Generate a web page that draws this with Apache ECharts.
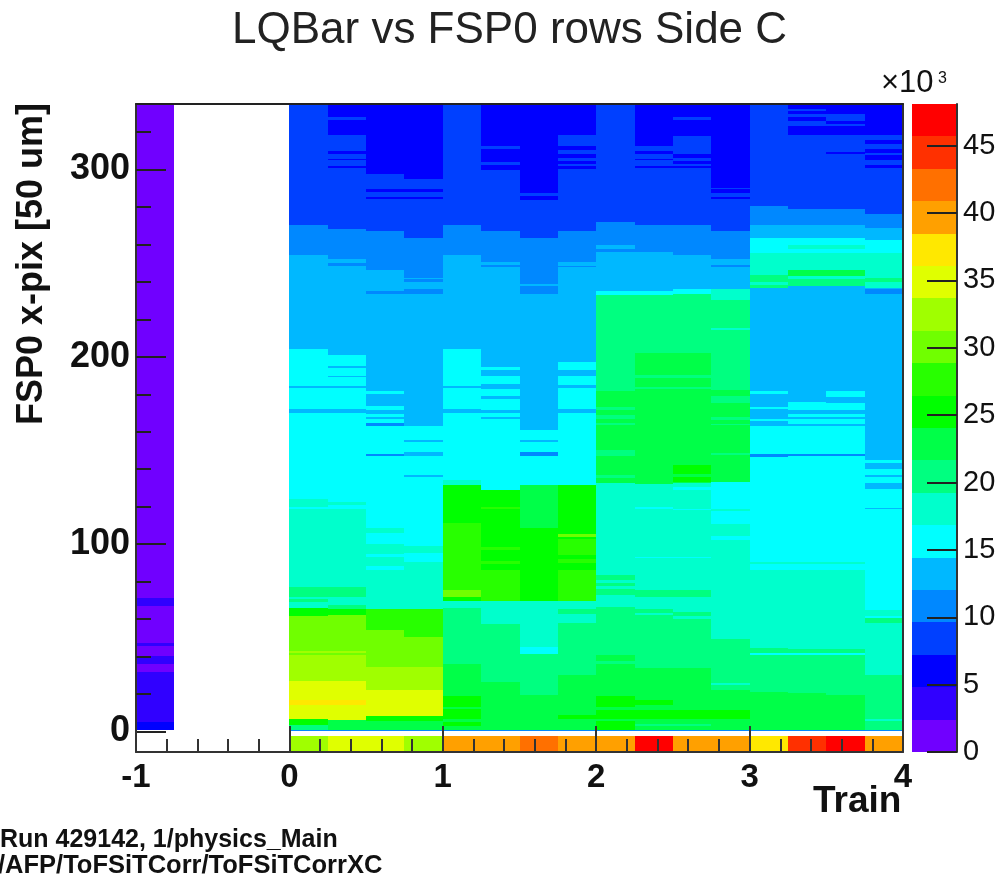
<!DOCTYPE html>
<html><head><meta charset="utf-8">
<style>html,body{margin:0;padding:0;background:#fff}#c{width:999px;height:882px}</style>
<script src="https://cdn.jsdelivr.net/npm/echarts@6/dist/echarts.min.js"></script>
</head><body><div id="c"></div>
<script>
// Row segments per train bin: [lower edge of the run in x-pix, value in thousands], read top to bottom from y=335
var binStart = [-1, 0, 0.25, 0.5, 0.75, 1, 1.25, 1.5, 1.75, 2, 2.25, 2.5, 2.75, 3, 3.25, 3.5, 3.75];
var binWidth = 0.25;
var topRow = 335;
var colM1 = [[71,1.2],[66.8,3.6],[47,1.2],[45.4,3.6],[40,1.2],[35.8,3.6],[31.5,1.2],[4.8,3.6],[0.5,6]];
var col00 = [[270.2,8.4],[254.2,10.8],[204.4,13.2],[184.5,15.6],[183.5,13.2],[172,15.6],[170,13.2],[124,15.6],[120,18],[119,15.6],[77,18],[72,20.4],[70.8,18],[69,20.4],[66,18],[61.6,25.3],[43,30.1],[42,32.5],[41,30.1],[26.7,32.5],[16.5,34.9],[14.2,37.3],[6.4,34.9],[3.2,25.3],[1,20.4],[0.3,10.8]];
var col01 = [[328,6],[326.7,8.4],[318.7,6],[309.8,8.4],[308.5,6],[305.7,8.4],[305,6],[302,8.4],[300.7,6],[268.5,8.4],[252.4,10.8],[250,13.2],[248.7,10.8],[200.8,13.2],[195,15.6],[194,13.2],[190,15.6],[189,13.2],[184.5,15.6],[183.5,13.2],[172,15.6],[170,13.2],[122.5,15.6],[120.7,18],[118.5,15.6],[77,18],[72,20.4],[67.3,18],[65.5,20.4],[62.3,25.3],[43,30.1],[42,32.5],[41,30.1],[26.7,32.5],[16.5,34.9],[14.2,37.3],[6,34.9],[1,22.8],[0.3,10.8]];
var col02 = [[297.5,6],[289.5,8.4],[287.9,6],[285.4,8.4],[284.3,6],[267.2,8.4],[246.6,10.8],[235,13.2],[233.7,10.8],[182,13.2],[180.3,15.6],[173.6,13.2],[171.8,15.6],[169.6,13.2],[168.1,15.6],[167,13.2],[164.7,15.6],[163.3,10.8],[148.3,15.6],[146.9,10.8],[108.8,15.6],[106,18],[100.2,15.6],[94.9,18],[93,15.6],[88.1,18],[86.3,15.6],[65.5,18],[53.9,27.7],[34.3,30.1],[21.9,32.5],[8.2,34.9],[5.3,25.3],[1,22.8],[0.3,10.8]];
var col03 = [[295.2,6],[289.5,8.4],[287.9,6],[285.4,8.4],[284.3,6],[263.7,8.4],[242.3,10.8],[241.7,13.2],[240,10.8],[236.4,13.2],[233.4,10.8],[163,13.2],[155.4,15.6],[154.4,13.2],[149,15.6],[146.9,13.2],[137,15.6],[136,13.2],[98.8,15.6],[95.2,18],[90.4,15.6],[65.5,18],[50.3,27.7],[34.3,30.1],[21.9,32.5],[8.2,34.9],[5.3,25.3],[1,22.8],[0.3,10.8]];
var col04 = [[270.2,8.4],[254.2,10.8],[204.4,13.2],[184.5,15.6],[183.5,13.2],[172,15.6],[170,13.2],[134,15.6],[131.7,18],[111.3,25.3],[75.3,27.7],[71.7,30.1],[69.4,25.3],[65.8,18],[35.8,20.4],[18.8,22.8],[12.9,25.3],[11.7,22.8],[6.4,25.3],[5,22.8],[2.8,25.3],[1,22.8],[0.3,10.8]];
var col05 = [[312.6,6],[311.2,8.4],[304.1,6],[302.6,8.4],[300,6],[267.2,8.4],[250.7,10.8],[248.9,13.2],[248,10.8],[194.6,13.2],[193.2,15.6],[189.6,13.2],[185.3,15.6],[183,13.2],[178.9,15.6],[177.7,13.2],[171.8,15.6],[170,13.2],[168.1,15.6],[167,13.2],[129,15.6],[119.8,25.3],[118.6,27.7],[98.4,25.3],[96.6,27.7],[90.9,25.3],[89.2,27.7],[86.3,25.3],[69.4,27.7],[57.5,18],[26.3,20.4],[1,22.8],[0.3,10.8]];
var col06 = [[287.5,6],[285.9,8.4],[283.6,6],[263.7,8.4],[238.7,10.8],[237.6,13.2],[233.4,10.8],[161.1,13.2],[155.4,15.6],[154.4,13.2],[149,15.6],[146.9,10.8],[131.4,15.6],[108.8,22.8],[69.4,25.3],[45,18],[41.4,15.6],[19.6,20.4],[1,22.8],[0.3,10.8]];
var col07 = [[318.7,6],[312.6,8.4],[310.3,6],[308.5,8.4],[305.9,6],[304.6,8.4],[303.2,6],[302,8.4],[300.5,6],[267.2,8.4],[250.7,10.8],[248.5,13.2],[247.9,10.8],[197.2,13.2],[193.2,15.6],[189.6,13.2],[184.8,15.6],[183.5,13.2],[172,15.6],[170,13.2],[131.4,15.6],[105.6,25.3],[103.8,30.1],[102.7,25.3],[94,27.7],[92.2,25.3],[89.9,27.7],[86.3,25.3],[69.4,27.7],[65.1,18],[62.8,20.4],[58,18],[30.2,20.4],[8.9,22.8],[6.4,25.3],[1,22.8],[0.3,10.8]];
var col08 = [[272,8.4],[259.6,10.8],[257.8,13.2],[256,10.8],[235.2,13.2],[232.8,15.6],[182,20.4],[173,22.8],[171.5,20.4],[168.8,22.8],[167,20.4],[164.7,22.8],[163.4,20.4],[150,22.8],[146.9,20.4],[137,22.8],[135.5,20.4],[132.6,22.8],[83.3,18],[80.6,20.4],[79.2,18],[77.4,20.4],[76.2,18],[72.6,20.4],[66.4,18],[40.6,20.4],[37.4,22.8],[35.8,20.4],[18.8,22.8],[13,25.3],[11.2,22.8],[6.4,25.3],[5.3,22.8],[1,25.3],[0.3,10.8]];
var col09 = [[312.6,6],[310,8.4],[308.5,6],[305.7,8.4],[305,6],[302,8.4],[300.7,6],[270.2,8.4],[256,10.8],[235.2,13.2],[232.8,15.6],[202,20.4],[190.1,22.8],[188.9,20.4],[183.9,22.8],[183,20.4],[132.3,22.8],[119.8,18],[118.6,15.6],[93.1,18],[92.6,15.6],[75.3,18],[71.7,20.4],[65.1,18],[63.4,20.4],[62.3,18],[33.8,20.4],[16.5,22.8],[14.2,25.3],[11.2,22.8],[6.4,25.3],[4,22.8],[2.8,20.4],[1,22.8],[0.3,10.8]];
var col10 = [[328,6],[326.7,8.4],[317.8,6],[308.5,8.4],[305.9,6],[304.6,8.4],[303.2,6],[302,8.4],[300.7,6],[270.2,8.4],[254.2,10.8],[236,13.2],[233.4,15.6],[202,20.4],[190.1,22.8],[188.9,20.4],[183.9,22.8],[183,20.4],[142.4,22.8],[137.6,25.3],[136,22.8],[133.2,25.3],[132.6,22.8],[130.5,18],[128.7,15.6],[119,18],[118,15.6],[93.1,18],[92.6,15.6],[75.3,18],[71.7,20.4],[64,18],[61.6,20.4],[59.8,18],[33.8,20.4],[11.2,22.8],[6.4,25.3],[4,22.8],[2.8,20.4],[1,22.8],[0.3,10.8]];
var col11 = [[290.4,6],[289.5,8.4],[287.5,6],[285.4,8.4],[284.3,6],[267.2,8.4],[252.4,10.8],[248.9,13.2],[248,10.8],[236,13.2],[230.2,18],[215.6,20.4],[214.2,18],[182.5,20.4],[179,22.8],[175.4,20.4],[167.9,22.8],[166.5,20.4],[164.3,22.8],[163.4,20.4],[148.6,22.8],[147.4,20.4],[133.2,22.8],[118.9,15.6],[117.5,18],[110.9,15.6],[104.1,18],[102.4,15.6],[49.1,18],[26,20.4],[25,18],[21.9,20.4],[11.2,22.8],[6.4,25.3],[1,22.8],[0.3,10.8]];
var col12 = [[280.4,8.4],[270.2,10.8],[263.7,13.2],[255.7,15.6],[243.5,18],[240,20.4],[238.2,18],[237,20.4],[182,13.2],[180.3,15.6],[173.2,13.2],[172,15.6],[167,13.2],[165.7,15.6],[163.2,13.2],[148.3,15.6],[146.5,10.8],[90.5,15.6],[89.3,18],[86.3,15.6],[44.7,18],[41.9,20.4],[40.9,15.6],[21.3,20.4],[1,22.8],[0.3,10.8]];
var col13 = [[332.5,6],[331,8.4],[329.9,6],[328,8.4],[326,6],[323.3,8.4],[318.7,6],[279.2,8.4],[270.2,10.8],[263.7,13.2],[259.6,15.6],[257.8,18],[255.7,15.6],[246.6,18],[243,22.8],[241.7,18],[237.6,20.4],[175.9,13.2],[171.8,15.6],[169.6,13.2],[168.1,15.6],[167,13.2],[164,15.6],[163,13.2],[148.3,15.6],[146.9,10.8],[90.5,15.6],[89.3,18],[86.3,15.6],[44.1,18],[41.9,20.4],[40.9,15.6],[20.4,20.4],[1,22.8],[0.3,10.8]];
var col14 = [[329.9,6],[326,8.4],[324.5,6],[323.3,8.4],[318.7,6],[309.4,8.4],[308.5,6],[279.2,8.4],[270.2,10.8],[263.7,13.2],[259.6,15.6],[257.8,18],[255.7,15.6],[246.6,18],[243,22.8],[241.7,18],[237.6,20.4],[181.8,13.2],[178.6,15.6],[175.4,13.2],[171.8,15.6],[169.6,13.2],[168.1,15.6],[167,13.2],[164,15.6],[163,13.2],[148.3,15.6],[146.9,10.8],[90.5,15.6],[89.3,18],[86.3,15.6],[44.1,18],[41.9,20.4],[40.9,15.6],[19.2,20.4],[1,22.8],[0.3,10.8]];
var col15 = [[318.7,6],[316,8.4],[313.5,6],[311.2,8.4],[308.9,6],[307.6,8.4],[305.3,6],[302.3,8.4],[300.7,6],[276.5,8.4],[268.8,10.8],[262.2,13.2],[255.7,15.6],[242.3,18],[240,20.4],[237,18],[236.4,13.2],[233.4,10.8],[145,13.2],[143.3,15.6],[140.3,13.2],[137,15.6],[136,13.2],[132.6,15.6],[129.2,13.2],[119.3,15.6],[118.6,13.2],[64.6,15.6],[61.6,18],[60.5,15.6],[58,20.4],[30.2,18],[6.7,20.4],[5.3,18],[1,20.4],[0.3,10.8]];
var columns = [colM1,col00,col01,col02,col03,col04,col05,col06,col07,col08,col09,col10,col11,col12,col13,col14,col15];
// bottom strip (below the gap at y=0), one value per bin from train 0 to 4
var bottomStripTop = -2.7;
var bottomStripBottom = -11;
var bottomStrip = [32.5,34.9,34.9,32.5,39.7,39.7,42.1,39.7,39.7,46.9,39.7,39.7,37.3,44.5,46.9,39.7];
// colour scale
var zMax = 48.1;
var palette = ['#7000ff','#3000ff','#0000ff','#0040ff','#0088ff','#00b8ff','#00ffff','#00ffcc','#00ff80','#00ff48','#00ff00','#28ff00','#70ff00','#a0ff00','#e0ff00','#ffe800','#ffa000','#ff7000','#ff3000','#ff0000'];
var xTicks = [-1,0,1,2,3,4];
var yMajor = [0,100,200,300];
var yMinor = [20,40,60,80,120,140,160,180,220,240,260,280,320];
var zTicks = [0,5,10,15,20,25,30,35,40,45];

function colorOf(v){
  var i = Math.floor(v/zMax*palette.length);
  return palette[Math.min(palette.length-1,Math.max(0,i))];
}
var cells = [];
columns.forEach(function(segs,i){
  var top = topRow;
  segs.forEach(function(s){
    cells.push([binStart[i],binStart[i]+binWidth,s[0],top,s[1]]);
    top = s[0];
  });
});
bottomStrip.forEach(function(v,i){
  cells.push([binStart[i+1],binStart[i+1]+binWidth,bottomStripBottom,bottomStripTop,v]);
});
var bandCells = palette.map(function(c,i){ return [0,1,i*zMax/palette.length,(i+1)*zMax/palette.length,(i+0.5)*zMax/palette.length]; });

function renderRect(params,api){
  var a = api.coord([api.value(0),api.value(3)]);
  var b = api.coord([api.value(1),api.value(2)]);
  var x0=Math.round(a[0]),y0=Math.round(a[1]),x1=Math.round(b[0]),y1=Math.round(b[1]);
  return {type:'rect',shape:{x:x0,y:y0,width:x1-x0,height:y1-y0},style:{fill:colorOf(api.value(4))}};
}
var FONT='"Liberation Sans",Arial,sans-serif';
var lineCol='#333';
var chart = echarts.init(document.getElementById('c'),null,{renderer:'canvas'});
chart.setOption({
  animation:false,
  backgroundColor:'#fff',
  title:{text:'LQBar vs FSP0 rows Side C',left:227,top:4,textStyle:{fontFamily:FONT,fontSize:44,fontWeight:'normal',color:'#222'}},
  grid:[{left:136,top:104,width:767,height:648},{left:912,top:104,width:45,height:648}],
  xAxis:[
    {type:'value',gridIndex:0,min:-1,max:4,interval:1,z:5,position:'bottom',
     axisLine:{show:true,onZero:false,lineStyle:{color:lineCol,width:2}},
     axisTick:{show:true,inside:true,length:26,lineStyle:{color:lineCol,width:2}},
     minorTick:{show:true,splitNumber:5,length:13,lineStyle:{color:lineCol,width:2}},
     splitLine:{show:false},
     axisLabel:{fontFamily:FONT,fontSize:33,fontWeight:'bold',color:'#111',margin:9,
       formatter:function(v){return xTicks.indexOf(v)>=0?String(v):'';}}},
    {type:'value',gridIndex:0,min:-1,max:4,interval:1,z:5,position:'top',
     axisLine:{show:true,onZero:false,lineStyle:{color:'#222',width:2}},axisTick:{show:false},axisLabel:{show:false},splitLine:{show:false}},
    {type:'value',gridIndex:1,min:0,max:1,show:false}
  ],
  yAxis:[
    {type:'value',gridIndex:0,min:bottomStripBottom,max:topRow,z:5,position:'left',
     axisLine:{show:true,onZero:false,lineStyle:{color:lineCol,width:2}},
     axisTick:{show:true,inside:true,length:30,customValues:yMajor,lineStyle:{color:'#222',width:2}},
     splitLine:{show:false},
     axisLabel:{fontFamily:FONT,fontSize:36,fontWeight:'bold',color:'#111',margin:6,customValues:yMajor}},
    {type:'value',gridIndex:0,min:bottomStripBottom,max:topRow,z:5,position:'left',
     axisLine:{show:false,onZero:false},axisLabel:{show:false},splitLine:{show:false},
     axisTick:{show:true,inside:true,length:15,customValues:yMinor,lineStyle:{color:'#222',width:2}}},
    {type:'value',gridIndex:0,min:bottomStripBottom,max:topRow,z:5,position:'right',
     axisLine:{show:true,onZero:false,lineStyle:{color:lineCol,width:2}},axisLabel:{show:false},axisTick:{show:false},splitLine:{show:false}},
    {type:'value',gridIndex:1,min:0,max:zMax,z:5,position:'right',
     axisLine:{show:true,onZero:false,lineStyle:{color:lineCol,width:2}},
     axisTick:{show:true,inside:true,length:30,customValues:zTicks,lineStyle:{color:'#222',width:2}},
     splitLine:{show:false},
     axisLabel:{fontFamily:FONT,fontSize:29,color:'#111',margin:6,customValues:zTicks}}
  ],
  series:[
    {type:'custom',xAxisIndex:0,yAxisIndex:0,z:2,silent:true,data:cells,renderItem:renderRect,encode:{x:[0,1],y:[2,3]},progressive:0},
    {type:'custom',xAxisIndex:2,yAxisIndex:3,z:2,silent:true,data:bandCells,renderItem:renderRect,encode:{x:[0,1],y:[2,3]},progressive:0}
  ],
  graphic:[
    {type:'text',rotation:Math.PI/2,x:14,y:425,style:{text:'FSP0 x-pix [50 um]',fontFamily:FONT,fontSize:36,fontWeight:'bold',fill:'#111',textVerticalAlign:'top'}},
    {type:'text',left:813,top:783,style:{text:'Train',fontFamily:FONT,fontSize:37,fontWeight:'bold',fill:'#111'}},
    {type:'text',left:881,top:68,style:{text:'×10',fontFamily:FONT,fontSize:31,fill:'#111'}},
    {type:'text',left:938,top:71,style:{text:'3',fontFamily:FONT,fontSize:16,fill:'#111'}},
    {type:'text',left:0,top:828,style:{text:'Run 429142, 1/physics_Main',fontFamily:FONT,fontSize:25,fontWeight:'bold',fill:'#111'}},
    {type:'text',left:-2,top:853,style:{text:'/AFP/ToFSiTCorr/ToFSiTCorrXC',fontFamily:FONT,fontSize:25.5,fontWeight:'bold',fill:'#111'}}
  ]
});
</script></body></html>
